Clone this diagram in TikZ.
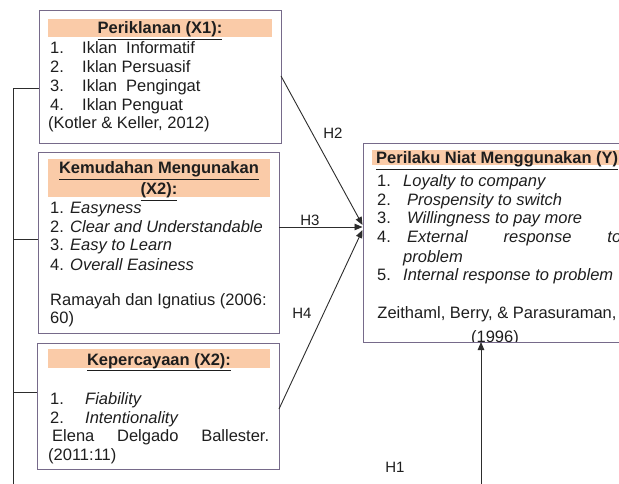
\documentclass[tikz,border=0pt]{standalone}
\usepackage{fontspec}
\setmainfont{Liberation Sans}
\usetikzlibrary{arrows.meta,calc}
\definecolor{boxc}{RGB}{118,106,138}
\definecolor{hdr}{RGB}{250,203,168}
\definecolor{ln}{RGB}{45,45,45}
\definecolor{tx}{RGB}{30,30,30}
\begin{document}
\begin{tikzpicture}[x=1pt,y=-1pt,
  box/.style={draw=boxc, line width=1pt, fill=white, inner sep=0pt, outer sep=0pt},
  hdrbox/.style={fill=hdr, inner sep=0pt, outer sep=0pt},
  txt/.style={anchor=base west, inner sep=0pt, text=tx, font=\fontsize{16.5}{19}\selectfont},
  itx/.style={txt, font=\fontsize{16.5}{19}\selectfont\itshape},
  ctx/.style={anchor=base, inner sep=0pt, text=tx, font=\fontsize{16.5}{19}\selectfont},
  ttl/.style={anchor=base, inner sep=0pt, text=tx, font=\fontsize{16.5}{19}\selectfont\bfseries},
  hlab/.style={inner sep=0pt, text=tx, font=\fontsize{15}{18}\selectfont},
  conn/.style={draw=ln, line width=0.9pt},
  arr/.style={conn, -{Triangle[length=8pt,width=6.5pt]}}]
\useasboundingbox (0,0) rectangle (619,484);
\clip (0,0) rectangle (619,484);
\fill[white] (0,0) rectangle (619,484);

% ---------- boxes ----------
\node[box, minimum width=242pt, minimum height=133pt] (b1) at (160,77.5) {};
\node[box, minimum width=241pt, minimum height=180pt] (b2) at (158.5,243) {};
\node[box, minimum width=242pt, minimum height=126pt] (b3) at (158,406) {};
\node[box, minimum width=277pt, minimum height=198pt] (by) at (501.5,243) {};

% ---------- header fills ----------
\node[hdrbox, minimum width=224pt, minimum height=18pt] (h1) at (160,28) {};
\node[hdrbox, minimum width=222pt, minimum height=38pt] (h2) at (159,178) {};
\node[hdrbox, minimum width=222pt, minimum height=19pt] (h3) at (159,358.5) {};
\node[hdrbox, minimum width=250pt, minimum height=15pt] (hy) at (497,157.5) {};

% ---------- box 1 ----------
\node[ttl] (t1) at (160,34) {\underline{Periklanan (X1):}};
\node[txt] (a1n) at (50,54) {1.};  \node[txt] (a1) at (82,54) {Iklan\ \ Informatif};
\node[txt] (a2n) at (50,73) {2.};  \node[txt] (a2) at (82,73) {Iklan Persuasif};
\node[txt] (a3n) at (50,92) {3.};  \node[txt] (a3) at (82,92) {Iklan\ \ Pengingat};
\node[txt] (a4n) at (50,111) {4.}; \node[txt] (a4) at (82,111) {Iklan Penguat};
\node[txt] (a5) at (48,129) {(Kotler \& Keller, 2012)};

% ---------- box 2 ----------
\node[ttl] (t2a) at (159,174) {\underline{Kemudahan Mengunakan}};
\node[ttl] (t2b) at (159,195) {\underline{(X2):}};
\node[txt] (c1n) at (50,214) {1.}; \node[itx] (c1) at (70,214) {Easyness};
\node[txt] (c2n) at (50,233) {2.}; \node[itx] (c2) at (70,233) {Clear and Understandable};
\node[txt] (c3n) at (50,251) {3.}; \node[itx] (c3) at (70,251) {Easy to Learn};
\node[txt] (c4n) at (50,270) {4.}; \node[itx] (c4) at (70,270) {Overall Easiness};
\node[txt] (c5) at (50,305) {Ramayah dan Ignatius (2006:};
\node[txt] (c6) at (50,323) {60)};

% ---------- box 3 ----------
\node[ttl] (t3) at (159,365) {\underline{Kepercayaan (X2):}};
\node[txt] (d1n) at (50,404) {1.}; \node[itx] (d1) at (85,404) {Fiability};
\node[txt] (d2n) at (50,423) {2.}; \node[itx] (d2) at (85,423) {Intentionality};
\node[txt] (d3) at (52,441) {\hbox to 217pt{Elena\hfill Delgado\hfill Ballester.}};
\node[txt] (d4) at (48,460) {(2011:11)};

% ---------- box Y ----------
\node[ttl, anchor=base west] (ty) at (376,164) {\underline{Perilaku Niat Menggunakan (Y)}};
\node[txt] (y1n) at (377,186) {1.}; \node[itx] (y1) at (403,186) {Loyalty to company};
\node[txt] (y2n) at (377,205) {2.}; \node[itx] (y2) at (407,205) {Prospensity to switch};
\node[txt] (y3n) at (377,224) {3.}; \node[itx] (y3) at (407,224) {Willingness to pay more};
\node[txt] (y4n) at (377,243) {4.}; \node[itx] (y4) at (407,243) {\hbox to 214pt{External\hfill response\hfill to}};
\node[itx] (y4b) at (403,262) {problem};
\node[txt] (y5n) at (377,280) {5.}; \node[itx] (y5) at (403,280) {Internal response to problem};
\node[ctx] (y6) at (497,318) {Zeithaml, Berry, \& Parasuraman,};
\begin{scope}
  \clip (363,300) rectangle (619,341);
  \node[ctx] (y7) at (495,342) {(1996)};
\end{scope}

% ---------- connectors ----------
\coordinate (tip2) at (362.5,225);
\coordinate (tip3) at (362.5,227);
\coordinate (tip4) at (362.5,230);
\draw[arr] (b1.east |- 0,76) -- (tip2);
\draw[arr] (b2.east |- tip3) -- (tip3);
\draw[arr] (b3.east |- 0,409) -- (tip4);

\coordinate (h1s) at (481,490);
\draw[arr] (h1s) -- (h1s |- by.south);

\coordinate (bk1) at (13,88);
\coordinate (bk2) at (13,239);
\coordinate (bk3) at (13,392);
\coordinate (bkend) at (13,490);
\draw[conn] (b1.west |- bk1) -- (bk1) -- (bkend);
\draw[conn] (b2.west |- bk2) -- (bk2);
\draw[conn] (b3.west |- bk3) -- (bk3);

% ---------- labels ----------
\node[hlab] (lh2) at (333,133) {H2};
\node[hlab] (lh3) at (310,220) {H3};
\node[hlab] (lh4) at (302,313) {H4};
\node[hlab] (lh1) at (395,467) {H1};
\end{tikzpicture}
\end{document}
